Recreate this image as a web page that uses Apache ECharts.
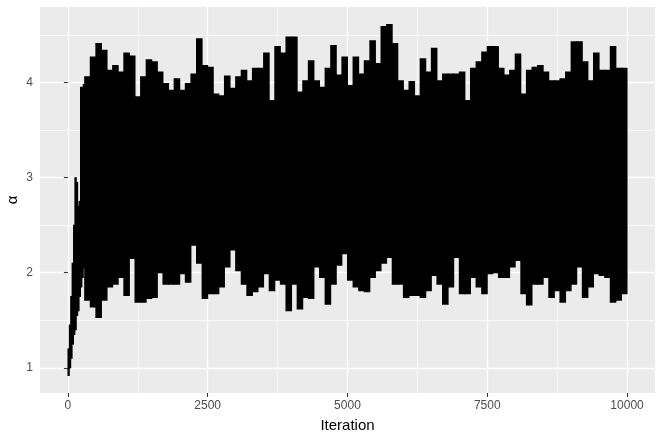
<!DOCTYPE html>
<html><head><meta charset="utf-8">
<script src="https://cdn.jsdelivr.net/npm/echarts@6/dist/echarts.min.js"></script>
<style>html,body{margin:0;padding:0;background:#fff}#c{width:664px;height:443px}</style>
</head><body><div id="c"></div>
<script>
// Burn-in: 25-iteration bins covering iterations 0..300 (max / min of alpha in each bin)
const burnBinSize = 25;
const burnMax = [1.20, 1.45, 1.75, 2.10, 2.50, 3.00, 2.95, 2.70, 2.75, 3.95, 3.95, 3.98];
const burnMin = [0.92, 1.00, 1.10, 1.25, 1.35, 1.40, 1.55, 1.60, 1.75, 1.85, 1.95, 2.05];
// Main trace: 100-iteration bins starting at iteration 300 (max / min of alpha in each bin)
const binSize = 100;
const traceStart = 300;
const traceMax = [
  4.06, 4.27, 4.41, 4.34, 4.13, 4.18, 4.11,
  4.31, 4.28, 3.85, 4.06, 4.24, 4.22, 4.11, 3.99, 3.92, 4.04,
  3.92, 3.99, 4.09, 4.46, 4.18, 4.16, 3.88, 3.86, 4.07, 3.94,
  4.06, 4.13, 4.02, 4.15, 4.15, 4.31, 3.81, 4.38, 4.31, 4.48,
  4.48, 3.90, 4.02, 4.23, 4.02, 3.95, 4.15, 4.39, 4.08, 4.27,
  3.97, 4.27, 4.09, 4.23, 4.44, 4.20, 4.59, 4.61, 4.41, 4.02,
  3.92, 4.01, 3.86, 4.25, 4.11, 4.36, 4.02, 4.09, 4.09, 4.09,
  4.11, 3.81, 4.15, 4.22, 4.32, 4.38, 4.38, 4.15, 4.08, 4.13,
  4.30, 3.88, 4.13, 4.16, 4.18, 4.11, 4.02, 4.02, 4.04, 4.11,
  4.43, 4.43, 4.22, 4.02, 4.31, 4.13, 4.13, 4.38, 4.15, 4.15
];
const traceMin = [
  1.71, 1.64, 1.53, 1.71, 1.85, 1.88, 1.95,
  1.76, 2.15, 1.69, 1.69, 1.73, 1.74, 2.00, 1.88, 1.88, 1.88,
  1.99, 1.90, 2.29, 2.10, 1.73, 1.78, 1.78, 1.85, 2.06, 2.24,
  2.02, 1.88, 1.76, 1.80, 1.85, 1.99, 1.81, 1.92, 1.88, 1.60,
  1.88, 1.62, 1.74, 1.73, 2.06, 1.95, 1.67, 1.88, 2.08, 2.20,
  1.92, 1.85, 1.81, 1.80, 1.95, 2.02, 2.10, 2.16, 1.88, 1.88,
  1.74, 1.76, 1.76, 1.74, 1.81, 1.97, 1.88, 1.67, 1.85, 2.16,
  1.78, 1.78, 1.95, 1.85, 1.78, 1.99, 2.00, 1.95, 1.95, 2.06,
  2.13, 1.78, 1.66, 1.88, 1.88, 1.95, 1.74, 1.81, 1.69, 1.81,
  1.88, 2.06, 1.74, 1.85, 1.99, 1.97, 1.95, 1.69, 1.71, 1.78
];
const xTicks = [0, 2500, 5000, 7500, 10000];
const xMinorTicks = [1250, 3750, 6250, 8750];
const yTicks = [1, 2, 3, 4];
const yMinorTicks = [1.5, 2.5, 3.5, 4.5];
const nIter = 10000;

// rows: [startIter, endIter, min, max]
const rows = [];
burnMax.forEach((mx, k) => rows.push([k * burnBinSize, (k + 1) * burnBinSize, burnMin[k], mx]));
traceMax.forEach((mx, k) => rows.push([traceStart + k * binSize, Math.min(nIter, traceStart + (k + 1) * binSize), traceMin[k], mx]));
rows[0][0] = 1;

const allVals = burnMin.concat(traceMin, burnMax, traceMax);
const dMin = Math.min(...allVals), dMax = Math.max(...allVals);
const yPad = (dMax - dMin) * 0.05;
const xPad = (nIter - 1) * 0.05;

const FONT = 'Liberation Sans, Arial, sans-serif';
const plain = v => String(v);
const chart = echarts.init(document.getElementById('c'), null, {renderer: 'canvas'});
chart.setOption({
  animation: false,
  backgroundColor: '#ffffff',
  grid: {left: 40, right: 9, top: 7, bottom: 50, containLabel: false, outerBoundsMode: 'none',
         show: true, backgroundColor: '#EBEBEB', borderWidth: 0},
  xAxis: [{
    type: 'value', min: 1 - xPad, max: nIter + xPad,
    axisLine: {show: false},
    axisTick: {show: true, length: 4, customValues: xTicks, lineStyle: {color: '#333333', width: 1.07}},
    axisLabel: {customValues: xTicks, formatter: plain, color: '#4D4D4D', fontSize: 12, margin: 7, fontFamily: FONT},
    splitLine: {show: true, lineStyle: {color: '#ffffff', width: 1.4}},
    name: 'Iteration', nameLocation: 'middle', nameGap: 25, nameMoveOverlap: false,
    nameTextStyle: {color: '#000000', fontSize: 15, fontFamily: FONT}
  }, {
    type: 'value', min: 1 - xPad, max: nIter + xPad, position: 'bottom',
    axisLine: {show: false},
    axisTick: {show: false, customValues: xMinorTicks},
    axisLabel: {show: false, customValues: xMinorTicks},
    splitLine: {show: true, lineStyle: {color: '#ffffff', width: 0.7}}
  }],
  yAxis: [{
    type: 'value', min: dMin - yPad, max: dMax + yPad,
    axisLine: {show: false},
    axisTick: {show: true, length: 4, customValues: yTicks, lineStyle: {color: '#333333', width: 1.07}},
    axisLabel: {customValues: yTicks, formatter: plain, color: '#4D4D4D', fontSize: 12, margin: 7, fontFamily: FONT},
    splitLine: {show: true, lineStyle: {color: '#ffffff', width: 1.4}},
    name: 'α', nameLocation: 'middle', nameGap: 20, nameRotate: 90, nameMoveOverlap: false,
    nameTextStyle: {color: '#000000', fontSize: 15, fontFamily: FONT}
  }, {
    type: 'value', min: dMin - yPad, max: dMax + yPad, position: 'left',
    axisLine: {show: false},
    axisTick: {show: false, customValues: yMinorTicks},
    axisLabel: {show: false, customValues: yMinorTicks},
    splitLine: {show: true, lineStyle: {color: '#ffffff', width: 0.7}}
  }],
  series: [{
    type: 'custom',
    xAxisIndex: 0, yAxisIndex: 0,
    data: rows,
    encode: {x: [0, 1], y: [2, 3]},
    renderItem: function (params, api) {
      const p0 = api.coord([api.value(0), api.value(3)]);
      const p1 = api.coord([api.value(1), api.value(2)]);
      return {
        type: 'rect',
        shape: {x: p0[0] - 0.5, y: p0[1] - 0.5, width: p1[0] - p0[0] + 1, height: p1[1] - p0[1] + 1},
        style: {fill: '#000000'}
      };
    }
  }]
});
</script>
</body></html>
